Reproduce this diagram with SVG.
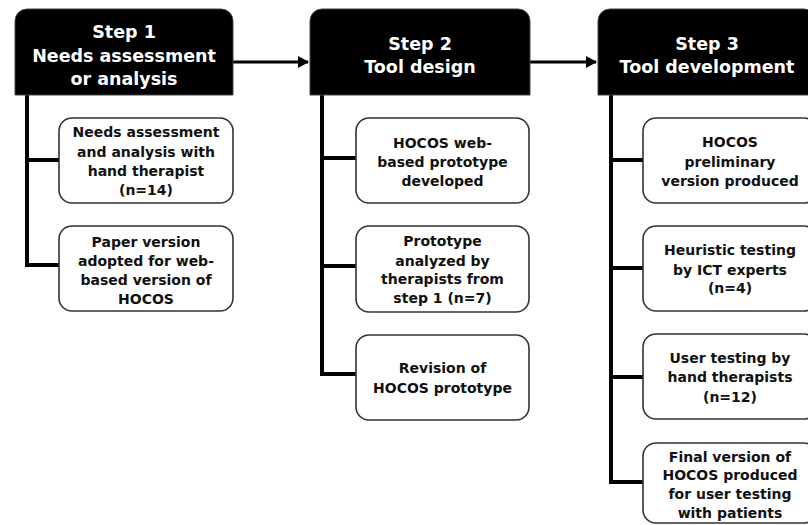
<svg xmlns="http://www.w3.org/2000/svg" width="808" height="525" viewBox="0 0 808 525">
<defs>
<style>
.hdr{fill:#000;stroke:#444;stroke-width:1}
.ht{fill:#fff;font-family:"DejaVu Sans",Verdana,sans-serif;font-weight:bold;font-size:17.5px;text-anchor:middle}
.box{fill:#fff;stroke:#333;stroke-width:1.6}
.bt{fill:#111;font-family:"DejaVu Sans",Verdana,sans-serif;font-weight:bold;font-size:14px;text-anchor:middle}
.ln{stroke:#000;stroke-width:4;fill:none}
.ar{stroke:#000;stroke-width:3;fill:none}
</style>
<marker id="ah" markerWidth="11" markerHeight="12" refX="10" refY="6" orient="auto" markerUnits="userSpaceOnUse">
<path d="M0,0 L11,6 L0,12 Z" fill="#000"/>
</marker>
</defs>
<rect width="808" height="525" fill="#fff"/>
<g id="connectors">
<line class="ar" x1="233" y1="62" x2="308" y2="62" marker-end="url(#ah)"/>
<line class="ar" x1="530" y1="62" x2="596" y2="62" marker-end="url(#ah)"/>
<path class="ln" d="M27,95 V267 M27,160 H59 M27,265 H59"/>
<path class="ln" d="M322,95 V376 M322,158 H356 M322,266 H356 M322,374 H356"/>
<path class="ln" d="M611,95 V484 M611,160 H643 M611,268 H643 M611,377 H643 M611,482 H643"/>
</g>
<g id="step1">
<path class="hdr" d="M15,95 V21 A12,12 0 0 1 27,9 H221 A12,12 0 0 1 233,21 V95 Z"/>
<text class="ht" x="124" y="38">Step 1</text>
<text class="ht" x="124" y="62">Needs assessment</text>
<text class="ht" x="124" y="85">or analysis</text>
</g>
<g id="step2">
<path class="hdr" d="M310,95 V21 A12,12 0 0 1 322,9 H518 A12,12 0 0 1 530,21 V95 Z"/>
<text class="ht" x="420" y="50">Step 2</text>
<text class="ht" x="420" y="73">Tool design</text>
</g>
<g id="step3">
<path class="hdr" d="M598,95 V21 A12,12 0 0 1 610,9 H804 A12,12 0 0 1 816,21 V95 Z"/>
<text class="ht" x="707" y="50">Step 3</text>
<text class="ht" x="707" y="73">Tool development</text>
</g>
<g id="n1a">
<rect class="box" x="59" y="118" width="174" height="85" rx="13"/>
<text class="bt" x="146" y="137">Needs assessment</text>
<text class="bt" x="146" y="157">and analysis with</text>
<text class="bt" x="146" y="176">hand therapist</text>
<text class="bt" x="146" y="195">(n=14)</text>
</g>
<g id="n1b">
<rect class="box" x="59" y="226" width="174" height="85" rx="13"/>
<text class="bt" x="146" y="247">Paper version</text>
<text class="bt" x="146" y="266">adopted for web-</text>
<text class="bt" x="146" y="285">based version of</text>
<text class="bt" x="146" y="304">HOCOS</text>
</g>
<g id="n2a">
<rect class="box" x="356" y="118" width="173" height="85" rx="13"/>
<text class="bt" x="442.5" y="148">HOCOS web-</text>
<text class="bt" x="442.5" y="167">based prototype</text>
<text class="bt" x="442.5" y="186">developed</text>
</g>
<g id="n2b">
<rect class="box" x="356" y="226" width="173" height="86" rx="13"/>
<text class="bt" x="442.5" y="246">Prototype</text>
<text class="bt" x="442.5" y="266">analyzed by</text>
<text class="bt" x="442.5" y="284">therapists from</text>
<text class="bt" x="442.5" y="303">step 1 (n=7)</text>
</g>
<g id="n2c">
<rect class="box" x="356" y="335" width="173" height="85" rx="13"/>
<text class="bt" x="442.5" y="373">Revision of</text>
<text class="bt" x="442.5" y="393">HOCOS prototype</text>
</g>
<g id="n3a">
<rect class="box" x="643" y="118" width="174" height="85" rx="13"/>
<text class="bt" x="730" y="147">HOCOS</text>
<text class="bt" x="730" y="167">preliminary</text>
<text class="bt" x="730" y="186">version produced</text>
</g>
<g id="n3b">
<rect class="box" x="643" y="226" width="174" height="85" rx="13"/>
<text class="bt" x="730" y="255">Heuristic testing</text>
<text class="bt" x="730" y="275">by ICT experts</text>
<text class="bt" x="730" y="293">(n=4)</text>
</g>
<g id="n3c">
<rect class="box" x="643" y="334" width="174" height="85" rx="13"/>
<text class="bt" x="730" y="363">User testing by</text>
<text class="bt" x="730" y="382">hand therapists</text>
<text class="bt" x="730" y="402">(n=12)</text>
</g>
<g id="n3d">
<rect class="box" x="643" y="443" width="174" height="80" rx="13"/>
<text class="bt" x="730" y="462">Final version of</text>
<text class="bt" x="730" y="480">HOCOS produced</text>
<text class="bt" x="730" y="499">for user testing</text>
<text class="bt" x="730" y="518">with patients</text>
</g>
</svg>
